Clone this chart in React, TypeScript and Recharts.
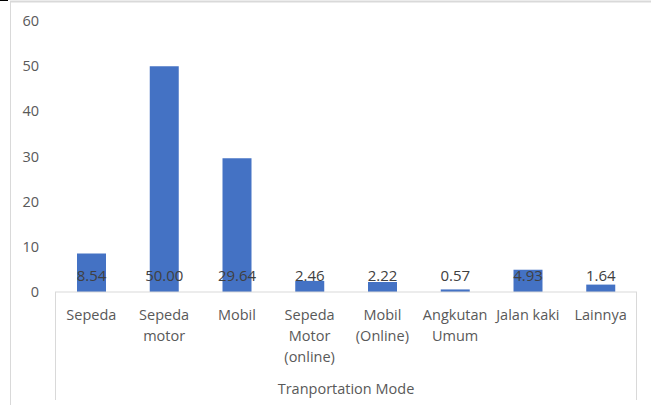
import React from 'react';
import { BarChart, Bar, XAxis, YAxis, LabelList } from 'recharts';

const categories = ['Sepeda', 'Sepeda\nmotor', 'Mobil', 'Sepeda\nMotor\n(online)', 'Mobil\n(Online)', 'Angkutan\nUmum', 'Jalan kaki', 'Lainnya'];
const values = [8.54, 50.0, 29.64, 2.46, 2.22, 0.57, 4.93, 1.64];
const yTicks = [0, 10, 20, 30, 40, 50, 60];
const axisTitle = 'Tranportation Mode';

const data = categories.map((c, i) => ({ name: c, value: values[i] }));

const FONT = '"Open Sans", "Noto Sans", sans-serif';

const CatTick = (props: any) => {
  const { x, y, payload } = props;
  const lines = String(payload.value).split('\n');
  return (
    <text x={x} y={y} textAnchor="middle" fill="#595959" fontSize={14.5} fontFamily={FONT}>
      {lines.map((l, i) => (
        <tspan key={i} x={x} y={y + 20 + i * 21}>{l}</tspan>
      ))}
    </text>
  );
};

export default function App() {
  return (
    <div style={{ position: 'absolute', left: 0, top: 0, width: 651, height: 405, background: '#fff' }}>
      <BarChart width={651} height={405} data={data} margin={{ top: 21, right: 14, left: 0, bottom: 0 }}>
        <YAxis
          type="number"
          domain={[0, 60]}
          ticks={yTicks}
          width={55}
          axisLine={false}
          tickLine={false}
          tickMargin={10}
          tick={{ fill: '#595959', fontSize: 14.5, fontFamily: FONT }}
        />
        <XAxis
          dataKey="name"
          height={113}
          axisLine={{ stroke: '#d9d9d9', strokeWidth: 1 }}
          tickLine={false}
          interval={0}
          tick={<CatTick />}
        />
        <Bar dataKey="value" fill="#4472C4" barSize={29} isAnimationActive={false}>
          <LabelList
            dataKey="value"
            position="insideBottom"
            offset={11}
            formatter={(v: any) => Number(v).toFixed(2)}
            style={{ fill: '#404040', fontSize: 15, fontFamily: FONT }}
          />
        </Bar>
      </BarChart>
      <svg width={651} height={405} style={{ position: 'absolute', left: 0, top: 0, pointerEvents: 'none' }}>
        <line x1={0} y1={0.5} x2={8} y2={0.5} stroke="#000" strokeWidth={1} />
        <line x1={10} y1={1.5} x2={651} y2={1.5} stroke="#d9d9d9" strokeWidth={2} />
        <line x1={10.5} y1={1} x2={10.5} y2={405} stroke="#d9d9d9" strokeWidth={1} />
        <line x1={55.5} y1={292} x2={55.5} y2={400} stroke="#d9d9d9" strokeWidth={1} />
        <line x1={636.5} y1={292} x2={636.5} y2={400} stroke="#d9d9d9" strokeWidth={1} />
        <text x={346} y={394} textAnchor="middle" fill="#595959" fontSize={14.5} fontFamily={FONT}>{axisTitle}</text>
      </svg>
    </div>
  );
}
